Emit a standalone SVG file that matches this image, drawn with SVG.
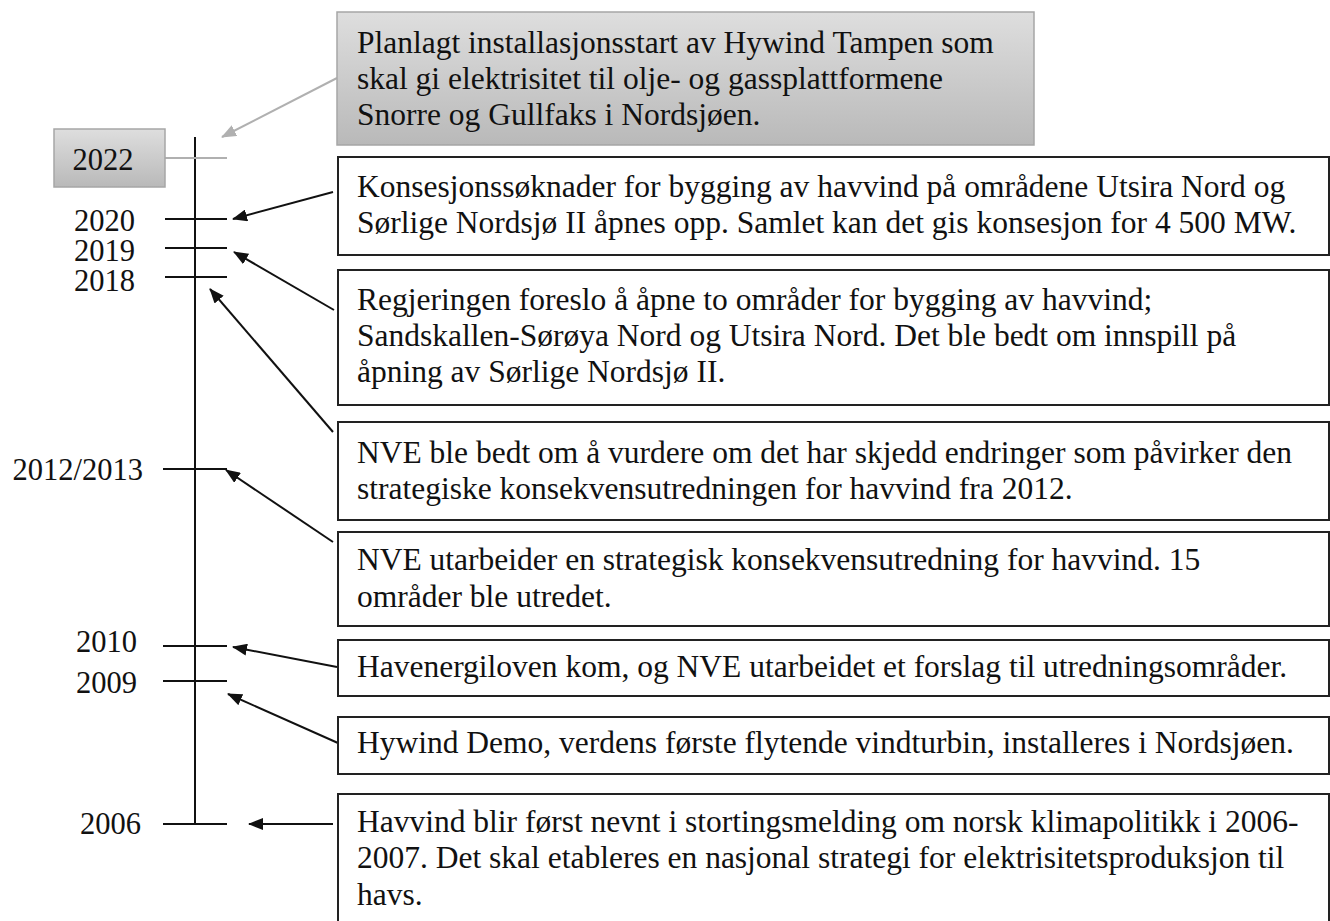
<svg xmlns="http://www.w3.org/2000/svg" width="1330" height="921" viewBox="0 0 1330 921">
<style>
text{font-family:"Liberation Serif","Times New Roman",serif;fill:#111}
.t{font-size:31.5px}
.y{font-size:30.5px}
.box{fill:#fff;stroke:#222;stroke-width:2}
.gbox{fill:url(#gg);stroke:#a6a6a6;stroke-width:1.5}
.ax{stroke:#111;stroke-width:2;fill:none}
.ar{stroke:#111;stroke-width:2;fill:none;marker-end:url(#ah)}
.arg{stroke:#b0b0b0;stroke-width:2;fill:none;marker-end:url(#ahg)}
</style>
<defs>
<linearGradient id="gg" x1="0" y1="0" x2="0" y2="1">
<stop offset="0" stop-color="#dedede"/>
<stop offset="1" stop-color="#b9b9b9"/>
</linearGradient>
<marker id="ah" markerUnits="userSpaceOnUse" markerWidth="16" markerHeight="12" refX="14" refY="6" orient="auto">
<path d="M0,0 L15,6 L0,12 z" fill="#111"/>
</marker>
<marker id="ahg" markerUnits="userSpaceOnUse" markerWidth="16" markerHeight="12" refX="14" refY="6" orient="auto">
<path d="M0,0 L15,6 L0,12 z" fill="#b0b0b0"/>
</marker>
</defs>

<g id="axis">
<line class="ax" x1="195" y1="137" x2="195" y2="825"/>
<line x1="165" y1="158" x2="227" y2="158" stroke="#b0b0b0" stroke-width="2"/>
<line class="ax" x1="165" y1="219" x2="227" y2="219"/>
<line class="ax" x1="165" y1="248" x2="227" y2="248"/>
<line class="ax" x1="165" y1="277" x2="227" y2="277"/>
<line class="ax" x1="163" y1="469" x2="227" y2="469"/>
<line class="ax" x1="163" y1="646" x2="227" y2="646"/>
<line class="ax" x1="163" y1="681" x2="227" y2="681"/>
<line class="ax" x1="163" y1="824" x2="227" y2="824"/>
</g>

<g id="year-2022">
<rect class="gbox" x="54" y="129" width="111" height="58"/>
<text class="y" x="103" y="170" text-anchor="middle">2022</text>
</g>
<g id="year-2020"><text class="y" x="135" y="231" text-anchor="end">2020</text></g>
<g id="year-2019"><text class="y" x="135" y="261" text-anchor="end">2019</text></g>
<g id="year-2018"><text class="y" x="135" y="291" text-anchor="end">2018</text></g>
<g id="year-2012"><text class="y" x="143" y="480" text-anchor="end">2012/2013</text></g>
<g id="year-2010"><text class="y" x="137" y="652" text-anchor="end">2010</text></g>
<g id="year-2009"><text class="y" x="137" y="693" text-anchor="end">2009</text></g>
<g id="year-2006"><text class="y" x="141" y="834" text-anchor="end">2006</text></g>

<g id="connectors">
<line class="arg" x1="337" y1="78" x2="222" y2="137"/>
<line class="ar" x1="333" y1="192" x2="233" y2="219"/>
<line class="ar" x1="334" y1="310" x2="234" y2="252"/>
<line class="ar" x1="333" y1="432" x2="210" y2="289"/>
<line class="ar" x1="333" y1="542" x2="226" y2="470"/>
<line class="ar" x1="337" y1="667" x2="233" y2="647"/>
<line class="ar" x1="338" y1="743" x2="228" y2="694"/>
<line class="ar" x1="333" y1="824" x2="249" y2="824"/>
</g>

<g id="event-2022">
<rect class="gbox" x="337" y="12" width="697" height="133"/>
<text class="t" x="357" y="53">Planlagt installasjonsstart av Hywind Tampen som</text>
<text class="t" x="357" y="89">skal gi elektrisitet til olje- og gassplattformene</text>
<text class="t" x="357" y="125">Snorre og Gullfaks i Nordsjøen.</text>
</g>

<g id="event-2020">
<rect class="box" x="338" y="157" width="991" height="98"/>
<text class="t" x="357" y="197">Konsesjonssøknader for bygging av havvind på områdene Utsira Nord og</text>
<text class="t" x="357" y="233">Sørlige Nordsjø II åpnes opp. Samlet kan det gis konsesjon for 4 500 MW.</text>
</g>

<g id="event-2019">
<rect class="box" x="338" y="270" width="991" height="135"/>
<text class="t" x="357" y="310">Regjeringen foreslo å åpne to områder for bygging av havvind;</text>
<text class="t" x="357" y="346">Sandskallen-Sørøya Nord og Utsira Nord. Det ble bedt om innspill på</text>
<text class="t" x="357" y="382">åpning av Sørlige Nordsjø II.</text>
</g>

<g id="event-2018">
<rect class="box" x="338" y="422" width="991" height="98"/>
<text class="t" x="357" y="463">NVE ble bedt om å vurdere om det har skjedd endringer som påvirker den</text>
<text class="t" x="357" y="499">strategiske konsekvensutredningen for havvind fra 2012.</text>
</g>

<g id="event-2012">
<rect class="box" x="338" y="532" width="991" height="94"/>
<text class="t" x="357" y="570">NVE utarbeider en strategisk konsekvensutredning for havvind. 15</text>
<text class="t" x="357" y="607">områder ble utredet.</text>
</g>

<g id="event-2010">
<rect class="box" x="338" y="640" width="991" height="56"/>
<text class="t" x="357" y="677">Havenergiloven kom, og NVE utarbeidet et forslag til utredningsområder.</text>
</g>

<g id="event-2009">
<rect class="box" x="338" y="717" width="991" height="57"/>
<text class="t" x="357" y="753">Hywind Demo, verdens første flytende vindturbin, installeres i Nordsjøen.</text>
</g>

<g id="event-2006">
<rect class="box" x="338" y="794" width="991" height="140"/>
<text class="t" x="357" y="832">Havvind blir først nevnt i stortingsmelding om norsk klimapolitikk i 2006-</text>
<text class="t" x="357" y="868">2007. Det skal etableres en nasjonal strategi for elektrisitetsproduksjon til</text>
<text class="t" x="357" y="905">havs.</text>
</g>
</svg>
